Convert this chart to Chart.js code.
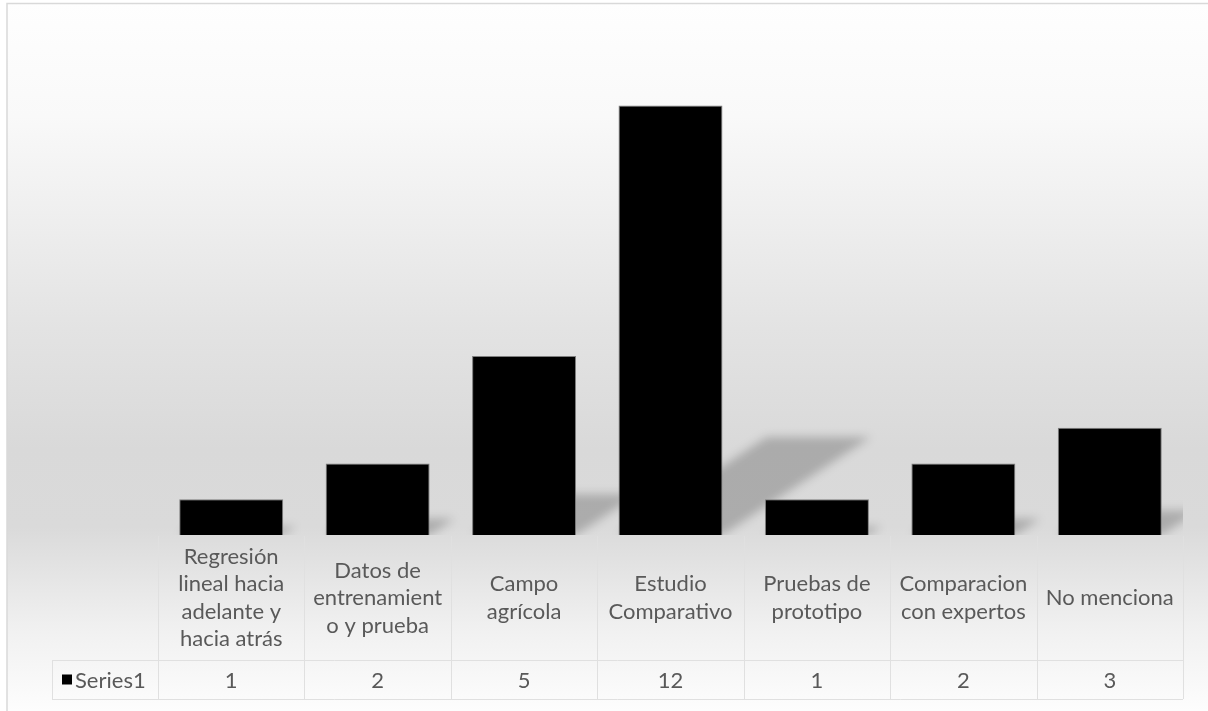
<!DOCTYPE html>
<html>
<head>
<meta charset="utf-8">
<title>Series1</title>
<script src="https://cdn.jsdelivr.net/npm/chart.js"></script>
<style>
    body { margin: 0; background: #ffffff; }
    canvas { display: block; }
</style>
</head>
<body>
<canvas id="chart1" width="1208" height="711"></canvas>
<script>
// categories, one array per wrapped label
let categories = [
    ['Regresión', 'lineal hacia', 'adelante y', 'hacia atrás'],
    ['Datos de', 'entrenamient', 'o y prueba'],
    ['Campo', 'agrícola'],
    ['Estudio', 'Comparativo'],
    ['Pruebas de', 'prototipo'],
    ['Comparacion', 'con expertos'],
    ['No menciona']
];
let series1 = [1, 2, 5, 12, 1, 2, 3];
let seriesName = 'Series1';
let yMin = 0;
let yMax = 14;

const textColor = '#595959';
const gridColor = '#e0e0e0';
const labelFont = '22px Lato';

// gray band behind the plot and the table
const backgroundPlugin = {
    id: 'background',
    beforeDraw(chart) {
        const ctx = chart.ctx;
        const w = chart.width, h = chart.height;
        ctx.save();
        ctx.fillStyle = '#ffffff';
        ctx.fillRect(0, 0, w, h);
        const grad = ctx.createLinearGradient(0, 3, 0, h);
        grad.addColorStop(0.00, '#fefefe');
        grad.addColorStop(0.16, '#f9f9f9');
        grad.addColorStop(0.46, '#e3e3e3');
        grad.addColorStop(0.63, '#d9d9d9');
        grad.addColorStop(0.74, '#dadada');
        grad.addColorStop(0.88, '#f0f0f0');
        grad.addColorStop(1.00, '#fdfdfd');
        ctx.fillStyle = grad;
        ctx.fillRect(7, 3, w - 7, h - 3);
        // chart frame
        ctx.strokeStyle = '#d9d9d9';
        ctx.lineWidth = 1.5;
        ctx.beginPath();
        ctx.moveTo(7, h);
        ctx.lineTo(7, 3.5);
        ctx.lineTo(w, 3.5);
        ctx.stroke();
        ctx.restore();
    }
};

// slanted shadows falling behind the bars
const shadowPlugin = {
    id: 'barShadow',
    beforeDatasetsDraw(chart) {
        const ctx = chart.ctx;
        const area = chart.chartArea;
        const meta = chart.getDatasetMeta(0);
        ctx.save();
        ctx.beginPath();
        ctx.rect(area.left, area.top, area.right - area.left, area.bottom - area.top);
        ctx.clip();
        ctx.filter = 'blur(5px)';
        ctx.fillStyle = 'rgba(0, 0, 0, 0.21)';
        meta.data.forEach(bar => {
            const p = bar.getProps(['x', 'y', 'base', 'width'], true);
            const hgt = p.base - p.y;
            const dx = hgt * 0.345;
            const dy = hgt * 0.228;
            const l = p.x - p.width / 2, r = p.x + p.width / 2;
            ctx.beginPath();
            ctx.moveTo(l, p.base);
            ctx.lineTo(r, p.base);
            ctx.lineTo(r + dx, p.base - dy);
            ctx.lineTo(l + dx, p.base - dy);
            ctx.closePath();
            ctx.fill();
        });
        ctx.restore();
    }
};

// data table under the plot: category headers plus the Series1 row
const tablePlugin = {
    id: 'dataTable',
    afterDraw(chart) {
        const ctx = chart.ctx;
        const area = chart.chartArea;
        const xs = chart.scales.x;
        const values = chart.data.datasets[0].data;
        const n = chart.data.labels.length;
        const step = (area.right - area.left) / n;

        const headTop = area.bottom + 1;
        const headBottom = area.bottom + 125;
        const rowBottom = headBottom + 39;
        const keyLeft = area.left - 106;

        ctx.save();
        ctx.strokeStyle = gridColor;
        ctx.lineWidth = 1;
        ctx.beginPath();
        for (let i = 0; i <= n; i++) {
            const x = Math.round(area.left + i * step) + 0.5;
            ctx.moveTo(x, headTop);
            ctx.lineTo(x, rowBottom);
        }
        ctx.moveTo(keyLeft + 0.5, headBottom);
        ctx.lineTo(keyLeft + 0.5, rowBottom);
        ctx.moveTo(keyLeft, headBottom + 0.5);
        ctx.lineTo(area.right, headBottom + 0.5);
        ctx.moveTo(keyLeft, rowBottom + 0.5);
        ctx.lineTo(area.right, rowBottom + 0.5);
        ctx.stroke();

        ctx.font = labelFont;
        ctx.fillStyle = textColor;
        ctx.textAlign = 'center';
        ctx.textBaseline = 'middle';
        const lineH = 27.5;
        const midHead = (headTop + headBottom) / 2;
        const midRow = (headBottom + rowBottom) / 2;
        chart.data.labels.forEach((lines, i) => {
            const cx = xs.getPixelForValue(i);
            const y0 = midHead - (lines.length - 1) * lineH / 2;
            lines.forEach((t, j) => ctx.fillText(t, cx, y0 + j * lineH));
            ctx.fillText(String(values[i]), cx, midRow + 1);
        });

        // legend key and series name
        ctx.fillStyle = '#000000';
        ctx.fillRect(keyLeft + 10, midRow - 5, 10, 10);
        ctx.fillStyle = textColor;
        ctx.textAlign = 'left';
        ctx.fillText(chart.data.datasets[0].label, keyLeft + 23, midRow + 1);
        ctx.restore();
    }
};

const chart1 = document.getElementById('chart1').getContext('2d');

new Chart(chart1, {
    type: 'bar',
    data: {
        labels: categories,
        datasets: [
            {
                label: seriesName,
                data: series1,
                backgroundColor: '#000000',
                borderColor: '#7f7f7f',
                borderWidth: 1,
                categoryPercentage: 1,
                barPercentage: 0.71
            }
        ]
    },
    options: {
        responsive: false,
        animation: false,
        devicePixelRatio: 1,
        layout: {
            padding: { left: 158, right: 25, top: 34, bottom: 176 }
        },
        scales: {
            x: { display: false },
            y: { display: false, min: yMin, max: yMax }
        },
        plugins: {
            legend: { display: false },
            tooltip: { enabled: false }
        }
    },
    plugins: [backgroundPlugin, shadowPlugin, tablePlugin]
});
</script>
</body>
</html>
